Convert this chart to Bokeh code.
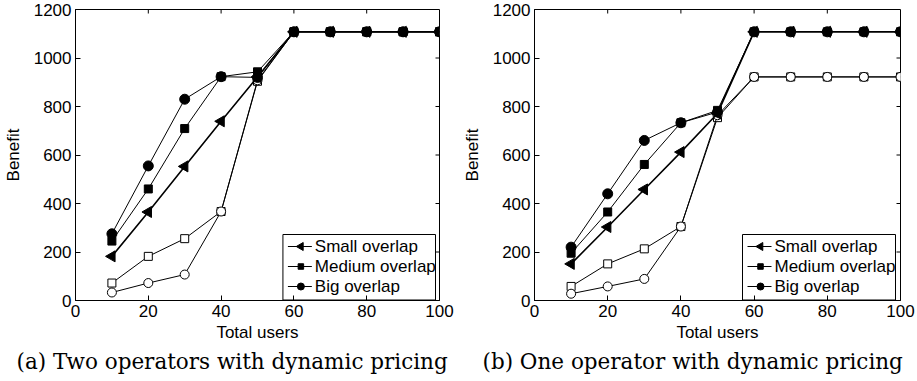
import numpy as np
from bokeh.plotting import figure
from bokeh.layouts import row
from bokeh.models import Title, Range1d, FixedTicker
from bokeh.core.properties import value
from bokeh.embed import file_html
from bokeh.resources import INLINE

users = [10, 20, 30, 40, 50, 60, 70, 80, 90, 100]

# Panel (a): two operators with dynamic pricing
a_small = [182, 365, 553, 739, 922, 1108, 1108, 1108, 1108, 1108]
a_medium = [245, 460, 709, 923, 943, 1108, 1108, 1108, 1108, 1108]
a_big = [275, 555, 830, 923, 920, 1108, 1108, 1108, 1108, 1108]
a_open_sq = [72, 182, 255, 367, 904, 1108, 1108, 1108, 1108, 1108]
a_open_ci = [33, 72, 107, 367, 908, 1108, 1108, 1108, 1108, 1108]

# Panel (b): one operator with dynamic pricing
b_small = [151, 303, 458, 612, 771, 1108, 1108, 1108, 1108, 1108]
b_medium = [195, 365, 561, 733, 784, 1108, 1108, 1108, 1108, 1108]
b_big = [220, 440, 660, 733, 777, 1108, 1108, 1108, 1108, 1108]
b_open_sq = [58, 151, 213, 305, 754, 922, 922, 922, 922, 922]
b_open_ci = [28, 58, 89, 305, 764, 922, 922, 922, 922, 922]

legend_labels = ["Small overlap", "Medium overlap", "Big overlap"]
x_ticks = [0, 20, 40, 60, 80, 100]
y_ticks = [0, 200, 400, 600, 800, 1000, 1200]

SANS = "Liberation Sans"
SERIF = "DejaVu Serif"
H = 380
TOP, BOTTOM = 9, 80
FH = H - TOP - BOTTOM
X_MAX, Y_MAX = 100, 1200


def style_axis(ax, ticks):
    ax.ticker = FixedTicker(ticks=ticks)
    ax.minor_tick_line_color = None
    ax.major_tick_in = 5
    ax.major_tick_out = 0
    ax.major_label_text_font = SANS
    ax.major_label_text_font_size = "17px"
    ax.major_label_text_color = "black"
    ax.axis_label_text_font = SANS
    ax.axis_label_text_font_size = "17px"
    ax.axis_label_text_font_style = "normal"
    ax.axis_label_text_color = "black"
    ax.axis_line_color = "black"
    ax.major_tick_line_color = "black"
    ax.major_label_standoff = 4
    ax.axis_label_standoff = 3


def make_panel(width, left, right, caption, small, medium, big, osq, oci, cap_offset):
    fw = width - left - right
    p = figure(width=width, height=H, output_backend="svg", toolbar_location=None,
               x_range=Range1d(0, X_MAX), y_range=Range1d(0, Y_MAX),
               min_border_left=left, min_border_right=right, min_border_top=TOP,
               min_border_bottom=BOTTOM)
    p.background_fill_color = "white"
    p.border_fill_color = "white"
    p.outline_line_color = "black"
    p.outline_line_width = 1
    p.xgrid.visible = False
    p.ygrid.visible = False
    style_axis(p.xaxis[0], x_ticks)
    style_axis(p.yaxis[0], y_ticks)
    p.yaxis[0].axis_label_standoff = 8
    p.xaxis.axis_label = "Total users"
    p.yaxis.axis_label = "Benefit"

    sx, sy = X_MAX / fw, Y_MAX / FH

    # inward ticks on the top and right edges of the box (MATLAB style)
    inner_x = x_ticks[1:-1]
    inner_y = y_ticks[1:-1]
    p.segment(x0=inner_x, x1=inner_x, y0=[Y_MAX] * len(inner_x),
              y1=[Y_MAX - 4 * sy] * len(inner_x), line_color="black", line_width=1)
    p.segment(x0=[X_MAX] * len(inner_y), x1=[X_MAX - 4 * sx] * len(inner_y),
              y0=inner_y, y1=inner_y, line_color="black", line_width=1)

    # open-marker series (not in legend)
    p.line(users, osq, color="black", line_width=1)
    p.scatter(users, osq, marker="square", size=8, fill_color="white", line_color="black")
    p.line(users, oci, color="black", line_width=1)
    p.scatter(users, oci, marker="circle", size=9, fill_color="white", line_color="black")

    p.line(users, small, color="black", line_width=1.6)
    p.scatter(users, small, marker="triangle", angle=np.pi / 2, size=11,
              fill_color="black", line_color="black")
    p.line(users, medium, color="black", line_width=1)
    p.scatter(users, medium, marker="square", size=8, fill_color="black", line_color="black")
    p.line(users, big, color="black", line_width=1)
    p.scatter(users, big, marker="circle", size=10, fill_color="black", line_color="black")

    # legend box (pixel offsets from the frame's bottom-left, converted to data units)
    box_l, box_r, box_b, box_t = 208, 361, 0.5, 66
    p.quad(left=[box_l * sx], right=[box_r * sx], bottom=[box_b * sy], top=[box_t * sy],
           fill_color="white", line_color="black", line_width=1)
    row_y = [54 * sy, 34 * sy, 14 * sy]
    p.segment(x0=[213 * sx] * 3, x1=[237 * sx] * 3, y0=row_y, y1=row_y,
              line_color="black", line_width=1)
    mx = 226 * sx
    p.scatter([mx], [row_y[0]], marker="triangle", angle=np.pi / 2, size=8,
              fill_color="black", line_color="black")
    p.scatter([mx], [row_y[1]], marker="square", size=5.5,
              fill_color="black", line_color="black")
    p.scatter([mx], [row_y[2]], marker="circle", size=7,
              fill_color="black", line_color="black")
    p.text(x=[240 * sx] * 3, y=row_y, text=legend_labels,
           text_font=value(SANS), text_font_size=value("17px"),
           text_baseline="middle", text_align="left", text_color="black")

    t = Title(text=caption, align="left", text_font=SERIF, text_font_size="21.5px",
              text_font_style="normal", text_color="black", offset=cap_offset, standoff=5)
    p.add_layout(t, "below")
    return p


p1 = make_panel(458, 74, 19, "(a) Two operators with dynamic pricing",
                a_small, a_medium, a_big, a_open_sq, a_open_ci, -59)
p2 = make_panel(459, 76, 17, "(b) One operator with dynamic pricing",
                b_small, b_medium, b_big, b_open_sq, b_open_ci, -52)

layout = row(p1, p2)
open("out.html", "w").write(file_html(layout, INLINE))
